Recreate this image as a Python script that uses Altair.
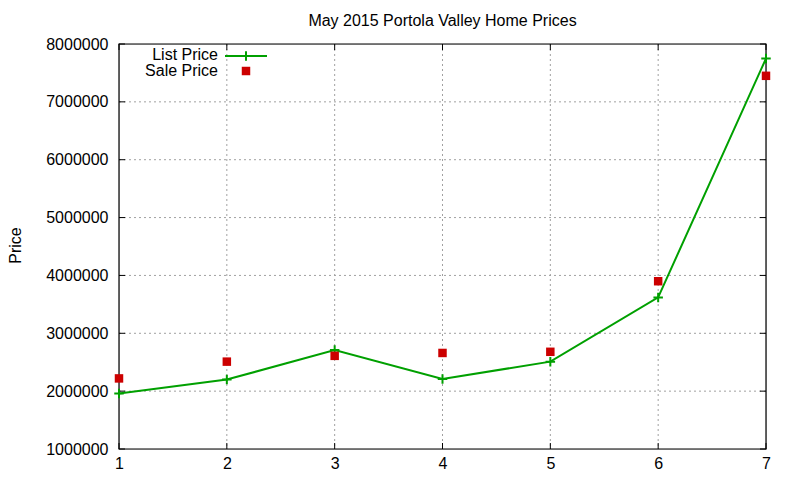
import altair as alt
import pandas as pd

# ---- data ----
houses = [1, 2, 3, 4, 5, 6, 7]
list_price = [1960000, 2200000, 2710000, 2210000, 2510000, 3620000, 7750000]
sale_price = [2220000, 2510000, 2610000, 2660000, 2680000, 3900000, 7450000]
x_ticks = [1, 2, 3, 4, 5, 6, 7]
y_ticks = [1000000, 2000000, 3000000, 4000000, 5000000, 6000000, 7000000, 8000000]
x_grid = [2, 3, 4, 5, 6]
y_grid = [2000000, 3000000, 4000000, 5000000, 6000000, 7000000]
title_text = "May 2015 Portola Valley Home Prices"
y_title = "Price"
legend_labels = ["List Price", "Sale Price"]

GREEN = "#00a000"
RED = "#cc0000"
GRID = "#a0a0a0"
FONT = "Liberation Sans"
W, H = 647, 405

df = pd.DataFrame({"house": houses, "list": list_price, "sale": sale_price})
xt = pd.DataFrame({"v": x_ticks})
yt = pd.DataFrame({"v": y_ticks})
xg = pd.DataFrame({"v": x_grid})
yg = pd.DataFrame({"v": y_grid})

xs = alt.Scale(domain=[1, 7], nice=False, zero=False)
ys = alt.Scale(domain=[1000000, 8000000], nice=False, zero=False)

x_axis = alt.Axis(values=x_ticks, format="d", grid=False, domain=False, ticks=False,
                  labelFontSize=16, labelFont=FONT, labelColor="black",
                  labelPadding=6, title=None, labelFlush=False)
y_axis = alt.Axis(values=y_ticks, format="d", grid=False, domain=False, ticks=False,
                  labelFontSize=16, labelFont=FONT, labelColor="black",
                  labelPadding=11, title=y_title, titleFontSize=16, titleFont=FONT,
                  titleFontWeight="normal", titleColor="black", titleAngle=270,
                  titleAlign="center", titleBaseline="alphabetic",
                  titleX=-99, titleY=201, labelFlush=False)


def X(f):
    return alt.X(f, type="quantitative", scale=xs, axis=x_axis)


def Y(f):
    return alt.Y(f, type="quantitative", scale=ys, axis=y_axis)


one = alt.Data(values=[{"t": 1}])

grid_x = alt.Chart(xg).mark_rule(color=GRID, strokeDash=[2, 3], strokeWidth=1).encode(x=X("v"))
grid_y = alt.Chart(yg).mark_rule(color=GRID, strokeDash=[2, 3], strokeWidth=1).encode(y=Y("v"))

tick_l = alt.Chart(yt).mark_rule(color="black").encode(y=Y("v"), x=alt.value(0), x2=alt.value(6))
tick_r = alt.Chart(yt).mark_rule(color="black").encode(y=Y("v"), x=alt.value(W - 6), x2=alt.value(W))
tick_b = alt.Chart(xt).mark_rule(color="black").encode(x=X("v"), y=alt.value(H - 6), y2=alt.value(H))
tick_t = alt.Chart(xt).mark_rule(color="black").encode(x=X("v"), y=alt.value(0), y2=alt.value(6))

border = alt.Chart(one).mark_rect(fillOpacity=0, stroke="black", strokeWidth=1.2).encode(
    x=alt.value(0), x2=alt.value(W), y=alt.value(0), y2=alt.value(H))

line = alt.Chart(df).mark_line(color=GREEN, strokeWidth=2).encode(x=X("house"), y=Y("list"))
plus = alt.Chart(df).mark_point(shape="M-1,0L1,0M0,-1L0,1", size=90, strokeWidth=2,
                                color=GREEN, filled=False, opacity=1).encode(x=X("house"), y=Y("list"))
squares = alt.Chart(df).mark_square(size=72, color=RED, opacity=1).encode(x=X("house"), y=Y("sale"))

# ---- title as text (centered over the plot) ----
title = alt.Chart(alt.Data(values=[{"t": title_text}])).mark_text(
    align="center", baseline="alphabetic", fontSize=16, font=FONT, color="black"
).encode(text="t:N", x=alt.value(W / 2), y=alt.value(-18))

# ---- hand-made legend (labels left of the keys, as in the reference) ----
lg1 = alt.Chart(alt.Data(values=[{"t": legend_labels[0]}])).mark_text(
    align="right", baseline="middle", fontSize=16, font=FONT, color="black"
).encode(text="t:N", x=alt.value(99), y=alt.value(11))
lg2 = alt.Chart(alt.Data(values=[{"t": legend_labels[1]}])).mark_text(
    align="right", baseline="middle", fontSize=16, font=FONT, color="black"
).encode(text="t:N", x=alt.value(99), y=alt.value(27))
lg_line = alt.Chart(one).mark_rule(color=GREEN, strokeWidth=2).encode(
    x=alt.value(106), x2=alt.value(148), y=alt.value(12))
lg_plus = alt.Chart(one).mark_point(
    shape="M-1,0L1,0M0,-1L0,1", size=90, strokeWidth=2, color=GREEN, filled=False, opacity=1
).encode(x=alt.value(127), y=alt.value(12))
lg_sq = alt.Chart(one).mark_square(size=72, color=RED, opacity=1).encode(
    x=alt.value(127), y=alt.value(27))

chart = alt.layer(
    grid_x, grid_y, tick_l, tick_r, tick_b, tick_t, border,
    line, plus, squares, title, lg1, lg2, lg_line, lg_plus, lg_sq
).properties(
    width=W, height=H,
    autosize=alt.AutoSizeParams(type="none"),
    padding={"left": 111, "top": 36, "right": 26, "bottom": 23},
).configure_view(stroke="transparent", clip=False).configure(background="white")

chart.save("out.html", embed_options={"renderer": "svg", "actions": False})
